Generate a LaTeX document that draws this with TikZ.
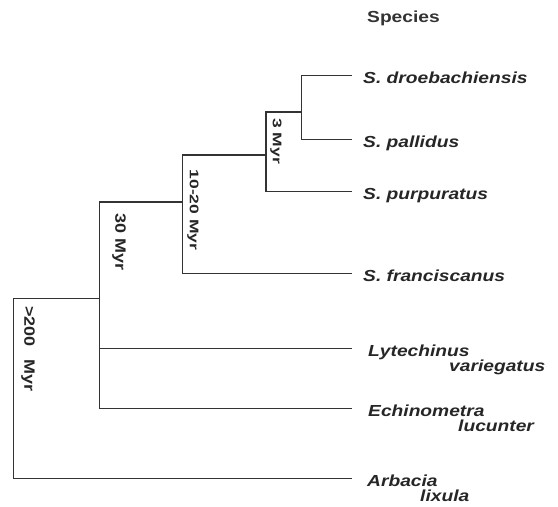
\documentclass[tikz,border=0pt]{standalone}
\usepackage{fontspec}
\setmainfont{Liberation Sans}
\newfontfamily\widesans[FakeStretch=1.2]{Liberation Sans}
\newfontfamily\agesans[FakeStretch=1.4]{Liberation Sans}
\usetikzlibrary{positioning}

\begin{document}
\begin{tikzpicture}[x=1pt, y=-1pt,
            branch/.style={draw=black!80, line width=1.2pt},
            sppfont/.style={font=\widesans\bfseries\itshape\fontsize{16}{18}\selectfont, text=black!85, inner sep=0pt, anchor=base west},
            taxon/.style={sppfont, yshift=-8pt},
            header/.style={font=\widesans\bfseries\fontsize{16}{18}\selectfont, text=black!80, inner sep=0pt, anchor=base west},
            agesmall/.style={font=\agesans\bfseries\fontsize{12.5}{14}\selectfont, text=black!85, rotate=-90, inner sep=0pt},
            agelarge/.style={font=\widesans\bfseries\fontsize{15}{17}\selectfont, text=black!85, rotate=-90, inner sep=0pt}]

            \useasboundingbox (0,0) rectangle (558,507);

            % Leaves (branch tips)
            \coordinate (dro) at (352,75.7);
            \coordinate (pal) at (352,139.3);
            \coordinate (pur) at (352,191.7);
            \coordinate (fra) at (352,273.3);
            \coordinate (lyt) at (352,348.3);
            \coordinate (ech) at (352,408.3);
            \coordinate (arb) at (352,478.3);

            % Internal nodes
            \coordinate (n1) at (301.7,112);
            \coordinate (n2) at (266,155);
            \coordinate (n3) at (182.7,202);
            \coordinate (n4) at (99.7,298.3);
            \coordinate (root) at (13.3,478.3);

            % Branches
            \draw [branch] (dro) -| (n1) |- (pal);
            \draw [branch] (n1) -| (n2) |- (pur);
            \draw [branch] (n2) -| (n3) |- (fra);
            \draw [branch] (n3) -| (n4) |- (ech);
            \draw [branch] (n4 |- lyt) -- (lyt);
            \draw [branch] (n4) -| (root) -- (arb);

            % Species names
            \node (head) [header] at (367,22) {Species};
            \node (droL) [right=11pt of dro, taxon] {S. droebachiensis};
            \node (palL) [right=11pt of pal, taxon] {S. pallidus};
            \node (purL) [right=11pt of pur, taxon] {S. purpuratus};
            \node (fraL) [right=11pt of fra, taxon] {S. franciscanus};
            \node (lytG) [right=16pt of lyt, taxon] {Lytechinus};
            \node (lytS) [below right=15pt and 81pt of lytG.base west, sppfont] {variegatus};
            \node (echG) [right=16pt of ech, taxon] {Echinometra};
            \node (echS) [below right=15pt and 90pt of echG.base west, sppfont] {lucunter};
            \node (arbG) [right=15pt of arb, taxon] {Arbacia};
            \node (arbS) [below right=15pt and 53pt of arbG.base west, sppfont] {lixula};

            % Divergence times
            \node (t3) [agesmall] at (276,141) {3 Myr};
            \node (t10) [agesmall] at (193,210) {10-20 Myr};
            \node (t30) [agelarge] at (119,242) {30 Myr};
            \node (t200) [agelarge] at (28,349) {>200\hspace{13pt}Myr};
        \end{tikzpicture}
\end{document}
